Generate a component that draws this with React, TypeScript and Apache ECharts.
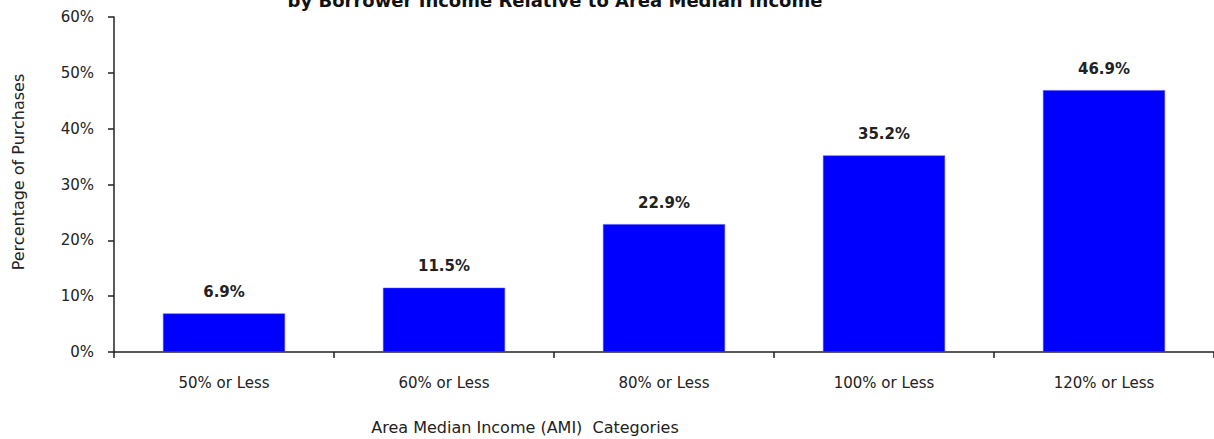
import React, { useEffect, useRef } from "react";
import * as echarts from "echarts";

const categories = ["50% or Less", "60% or Less", "80% or Less", "100% or Less", "120% or Less"];
const values = [6.9, 11.5, 22.9, 35.2, 46.9];
const yTicks = [0, 10, 20, 30, 40, 50, 60];
const titleText = "by Borrower Income Relative to Area Median Income";
const yAxisName = "Percentage of Purchases";
const xAxisName = "Area Median Income (AMI)  Categories";

export default function App() {
  const ref = useRef<HTMLDivElement>(null);
  useEffect(() => {
    const chart = echarts.init(ref.current!, null, { renderer: "svg" });
    const font = "'DejaVu Sans', Verdana, sans-serif";
    chart.setOption({
      animation: false,
      backgroundColor: "#ffffff",
      textStyle: { fontFamily: font },
      grid: { left: 114, right: 0, top: 17, bottom: 87, containLabel: false },
      xAxis: {
        type: "category",
        data: categories,
        axisLine: { lineStyle: { color: "#222", width: 1.5 } },
        axisTick: { show: true, length: 6, lineStyle: { color: "#222", width: 1.5 } },
        axisLabel: { color: "#222", fontSize: 15, margin: 23, fontFamily: font },
      },
      yAxis: {
        type: "value",
        min: yTicks[0],
        max: yTicks[yTicks.length - 1],
        interval: 10,
        axisLine: { show: true, lineStyle: { color: "#222", width: 1.5 } },
        axisTick: { show: true, length: 6, lineStyle: { color: "#222", width: 1.5 } },
        splitLine: { show: false },
        axisLabel: { color: "#222", fontSize: 15, margin: 20, fontFamily: font, formatter: "{value}%" },
      },
      series: [
        {
          type: "bar",
          data: values,
          barWidth: 122,
          itemStyle: { color: "#0000ff", borderColor: "#4d4dff", borderWidth: 0.5 },
          label: {
            show: true,
            position: "top",
            distance: 14,
            color: "#222",
            fontSize: 15,
            fontWeight: "bold",
            fontFamily: font,
            formatter: (p: any) => p.value.toFixed(1) + "%",
          },
        },
      ],
      graphic: [
        {
          type: "text",
          x: 555,
          y: -9,
          style: { text: titleText, fill: "#111", font: `bold 18px ${font}`, textAlign: "center" },
        },
        {
          type: "text",
          x: 18,
          y: 172,
          rotation: Math.PI / 2,
          style: { text: yAxisName, fill: "#222", font: `16px ${font}`, textAlign: "center", textVerticalAlign: "middle" },
        },
        {
          type: "text",
          x: 525,
          y: 427,
          style: { text: xAxisName, fill: "#222", font: `16px ${font}`, textAlign: "center", textVerticalAlign: "middle" },
        },
      ],
    });
    return () => chart.dispose();
  }, []);
  return <div ref={ref} style={{ position: "fixed", left: 0, top: 0, width: 1214, height: 439 }} />;
}
